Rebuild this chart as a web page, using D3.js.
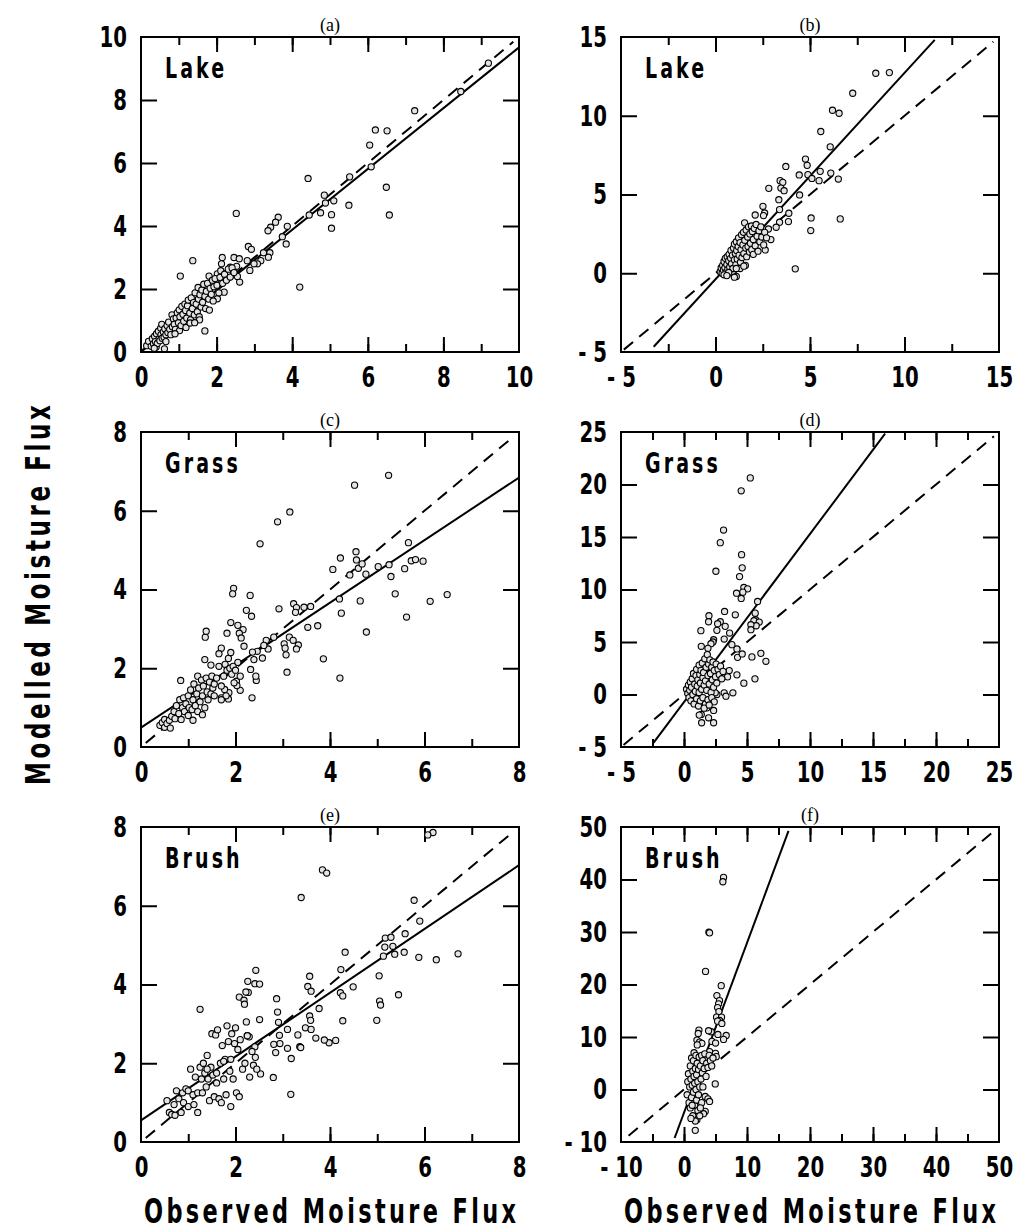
<!DOCTYPE html>
<html>
<head>
<meta charset="utf-8">
<script src="https://cdn.jsdelivr.net/npm/d3@7"></script>
<style>
  html, body { margin: 0; padding: 0; background: #fff; }
  svg { display: block; }
  .tick text { font-family: "Liberation Sans Narrow", "DejaVu Sans", sans-serif; font-weight: bold; font-size: 29px; fill: #000; }
  .tick line { stroke: #000; stroke-width: 2px; }
</style>
</head>
<body>
<div id="chart"></div>
<script>
// six panels: observed vs modelled moisture flux, three surfaces x two models
const panelLetters = ["(a)", "(b)", "(c)", "(d)", "(e)", "(f)"];
const surfaceNames = ["Lake", "Lake", "Grass", "Grass", "Brush", "Brush"];
const domains      = [[0, 10], [-5, 15], [0, 8], [-5, 25], [0, 8], [-10, 50]];
const majorSteps   = [2, 5, 2, 5, 2, 10];
const minorSteps   = [1, 2.5, 1, 2.5, 1, 5];
// regression fit: [slope, intercept], and x extent where it is drawn
const fitLines     = [[0.965, 0.02], [1.31, -0.38], [0.794, 0.49], [1.602, -0.73], [0.81, 0.55], [3.235, -4.42]];
const fitExtent    = [[0, 10], [-3.27, 11.6], [0, 8], [-2.41, 15.96], [0, 8], [-1.49, 16.59]];
const oneToOne     = [[0, 9.85], [-4.85, 14.7], [0.1, 7.9], [-4.8, 24.6], [0.1, 7.9], [-8.8, 49.6]];

const ptsA = [
  [9.19,9.17],[8.46,8.27],[7.24,7.66],[6.2,7.05],[6.51,7.02],[6.05,6.57],[6.09,5.88],[6.49,5.23],[6.57,4.35],
  [5.52,5.56],[5.5,4.66],[5.1,4.8],[4.85,4.98],[4.88,4.73],[4.75,4.42],[5.04,4.36],[5.04,3.93],[4.42,5.51],
  [4.45,4.35],[4.2,2.06],[3.87,3.99],[3.84,3.43],[3.74,3.66],[3.63,4.28],[3.56,4.12],[3.43,3.96],[3.36,3.85],
  [3.41,3.15],[3.37,3.01],[3.24,3.15],[3.17,2.9],[3.08,2.8],[2.84,3.35],[2.92,3.26],[2.81,2.9],[2.88,2.59],
  [2.99,2.8],[2.52,4.4],[2.46,3.0],[2.6,2.96],[2.53,2.72],[2.61,2.22],[2.55,2.4],[2.15,3.0],[2.13,2.8],
  [2.36,2.69],[2.29,2.53],[2.2,1.9],[2.02,2.48],[1.98,2.27],[1.37,2.9],[1.04,2.41],[1.8,2.41],[1.69,0.67],
  [2.02,1.69],[0.62,0.1],[0.4,0.16],
  [0.15,0.2],[0.2,0.34],[0.27,0.18],[0.3,0.42],[0.33,0.26],[0.36,0.5],[0.38,0.33],[0.41,0.58],[0.43,0.27],
  [0.46,0.66],[0.48,0.42],[0.5,0.36],[0.52,0.76],[0.53,0.55],[0.56,0.44],[0.55,0.88],[0.59,0.64],[0.61,0.47],
  [0.63,0.74],[0.66,0.55],[0.69,0.84],[0.71,0.62],[0.73,0.95],[0.76,0.72],[0.79,0.55],[0.82,1.18],[0.83,0.8],
  [0.86,1.05],[0.88,0.88],[0.91,0.72],[0.93,1.08],[0.96,1.25],[0.99,0.93],[1.02,0.68],[1.01,1.34],[1.03,1.12],
  [1.06,0.84],[1.08,1.45],[1.11,1.2],[1.13,0.98],[1.16,1.52],[1.18,1.32],[1.21,1.08],[1.19,0.78],[1.23,1.47],
  [1.25,1.65],[1.29,1.24],[1.31,1.02],[1.33,1.72],[1.36,1.38],[1.39,1.57],[1.41,1.18],[1.43,1.88],[1.46,1.52],
  [1.49,1.28],[1.51,2.05],[1.52,1.68],[1.54,1.12],[1.56,1.82],[1.59,1.43],[1.61,1.97],[1.63,1.58],[1.66,2.15],
  [1.69,1.77],[1.71,1.38],[1.73,1.93],[1.76,2.18],[1.79,1.68],[1.81,1.33],[1.83,2.02],[1.86,1.83],[1.89,2.28],
  [1.91,1.62],[1.93,2.07],[1.96,2.33],[2.01,2.12],[2.06,1.88],[2.09,2.37],[2.11,2.58],[2.16,2.18],[2.21,2.47],
  [2.26,2.28],[2.31,2.63],[2.36,2.38],[2.41,2.67],[2.46,2.52],[1.3,0.92],[1.55,1.02],[1.42,0.93],[0.9,0.58],
  [0.66,0.33],[0.35,0.12]
];
const ptsB = [
  [9.2,12.74],[8.48,12.7],[7.26,11.43],[6.19,10.35],[6.54,10.16],[5.57,9.0],[6.07,8.03],[4.76,7.25],[4.85,6.85],
  [4.89,6.26],[5.1,6.02],[5.54,6.47],[6.1,6.36],[5.48,5.88],[6.5,5.98],[4.43,6.24],[4.45,4.97],[3.72,6.78],
  [3.42,5.88],[3.56,5.77],[3.46,5.41],[3.63,5.24],[2.82,5.39],[3.35,4.67],[3.39,4.04],[3.88,3.81],[3.86,3.28],
  [3.39,3.24],[2.51,4.25],[2.6,3.83],[2.1,3.7],[2.54,3.66],[5.06,3.51],[5.04,2.71],[6.6,3.45],[4.22,0.28],
  [2.93,2.14],[3.21,2.92],[2.8,2.81],[2.63,1.48],[1.54,3.2],[0.96,-0.08],[1.1,-0.2],[1.0,-0.25],
  [0.25,0.1],[0.3,0.35],[0.35,0.0],[0.38,0.5],[0.42,0.2],[0.45,0.75],[0.5,0.35],[0.52,0.95],[0.55,0.05],
  [0.6,0.55],[0.62,1.05],[0.65,0.25],[0.7,0.8],[0.72,1.2],[0.75,0.4],[0.8,0.95],[0.82,1.45],[0.85,0.6],
  [0.9,1.15],[0.92,0.3],[0.95,1.6],[1.0,0.85],[1.0,1.85],[1.05,1.25],[1.08,0.55],[1.1,2.0],[1.12,1.45],
  [1.15,0.9],[1.2,1.7],[1.22,2.25],[1.25,1.15],[1.3,1.95],[1.32,0.7],[1.35,1.5],[1.38,2.45],[1.4,1.0],
  [1.45,1.8],[1.48,2.6],[1.5,1.25],[1.55,2.1],[1.58,0.5],[1.6,1.6],[1.62,2.75],[1.65,1.05],[1.7,2.3],
  [1.72,1.7],[1.75,2.95],[1.8,1.35],[1.82,2.5],[1.85,1.9],[1.9,3.0],[1.92,1.5],[1.95,2.65],[2.0,2.15],
  [2.0,1.2],[2.05,2.85],[2.1,1.75],[2.15,3.1],[2.2,2.35],[2.25,1.4],[2.3,2.7],[2.35,2.0],[2.4,2.95],
  [2.45,2.3],[2.55,1.8],[2.6,2.6],[2.7,2.25],[1.3,0.3],[1.5,0.45],[0.7,0.05],[1.1,0.3],[0.45,-0.1],[0.6,-0.15]
];
const ptsC = [
  [5.24,6.9],[4.52,6.65],[3.15,5.97],[2.89,5.72],[2.52,5.16],[5.66,5.19],[4.55,4.96],[4.22,4.8],[4.06,4.51],
  [4.56,4.75],[4.6,4.54],[4.68,4.65],[4.42,4.37],[4.76,4.39],[5.02,4.58],[5.25,4.63],[5.29,4.33],[5.58,4.53],
  [5.72,4.73],[5.81,4.76],[5.97,4.72],[5.38,3.89],[5.62,3.3],[6.12,3.7],[6.48,3.87],[4.2,3.76],[4.24,3.4],
  [4.64,3.71],[4.77,2.92],[4.21,1.75],[3.86,2.24],[3.23,3.64],[3.29,3.54],[3.27,3.42],[3.45,3.55],[3.59,3.57],
  [3.53,3.04],[3.74,3.08],[2.92,3.51],[3.14,2.79],[3.22,2.71],[3.33,2.59],[3.29,2.49],[3.03,2.62],[3.05,2.51],
  [3.07,2.34],[3.09,1.9],[2.81,2.79],[2.65,2.71],[2.69,2.49],[2.6,2.58],[2.57,2.26],[2.31,3.85],[2.23,3.47],
  [2.34,3.32],[1.96,4.03],[1.94,3.89],[1.9,3.16],[1.82,2.89],[2.05,3.09],[2.16,2.98],[2.08,2.89],[2.12,2.77],
  [2.18,2.56],[1.36,2.79],[1.38,2.94],[1.35,2.22],[1.48,2.08],[1.7,2.51],[1.65,2.37],[0.84,1.69],[2.35,1.25],
  [2.44,1.69],[2.43,1.8],[2.39,2.22],[2.46,2.43],[2.32,1.97],[2.36,2.41],[2.02,1.67],[2.1,1.44],[2.03,1.56],
  [1.97,1.63],[1.86,1.38],[1.7,1.25],[1.85,1.22],[1.77,1.46],
  [0.4,0.55],[0.45,0.62],[0.5,0.7],[0.5,0.5],[0.55,0.6],[0.6,0.68],[0.62,0.48],[0.65,0.78],[0.7,0.9],
  [0.72,0.72],[0.75,1.05],[0.8,0.85],[0.82,1.2],[0.85,0.7],[0.88,1.0],[0.9,1.25],[0.92,0.9],[0.95,1.1],
  [1.0,0.8],[1.0,1.3],[1.02,1.0],[1.05,1.45],[1.08,0.95],[1.1,1.2],[1.1,0.68],[1.12,1.6],[1.15,1.05],
  [1.18,1.35],[1.2,1.8],[1.2,0.9],[1.22,1.5],[1.25,1.15],[1.28,1.7],[1.3,0.82],[1.3,1.3],[1.32,1.55],
  [1.35,1.0],[1.38,1.75],[1.4,1.4],[1.42,1.2],[1.45,1.65],[1.48,1.35],[1.5,1.8],[1.52,1.5],[1.55,1.6],
  [1.6,1.75],[1.65,2.05],[1.7,1.55],[1.75,1.8],[1.78,2.1],[1.8,1.3],[1.82,1.95],[1.85,2.25],[1.88,2.0],
  [1.9,2.4],[1.92,1.85],[1.95,2.05],[2.0,1.95],[2.05,2.15],[2.1,1.8],[1.7,1.2],[1.55,1.3]
];
const ptsD = [
  [5.26,20.63],[4.54,19.4],[3.14,15.66],[2.88,14.46],[4.57,13.32],[4.62,12.06],[4.41,11.23],[2.53,11.74],
  [4.75,10.19],[5.05,10.06],[4.67,9.75],[4.17,9.65],[4.54,9.15],[5.84,8.86],[5.65,7.75],[5.68,7.12],[5.55,7.03],
  [5.97,6.9],[5.73,6.55],[5.31,6.65],[5.31,6.17],[3.22,7.91],[4.07,7.59],[1.98,7.5],[1.95,6.93],[2.88,6.93],
  [2.67,6.74],[3.27,6.49],[2.61,6.11],[1.34,6.08],[3.62,5.85],[2.35,5.22],[3.19,5.28],[2.3,5.0],[2.14,4.84],
  [1.37,4.59],[3.8,4.75],[1.9,4.4],[4.2,4.34],[4.25,3.54],[4.62,3.86],[6.1,3.92],[5.39,3.58],[6.5,3.16],
  [4.2,1.87],[5.63,1.49],[4.75,1.08],[3.88,0.16],[3.19,0.16],[3.33,-0.16],[3.59,2.28],[3.46,1.68],
  [1.37,-1.9],[1.21,-1.96],[1.4,-2.69],[2.35,-2.69],[1.95,-2.22],[2.35,-1.52],[1.82,-1.27],[2.61,0.0],[2.48,0.16],
  [0.2,0.5],[0.3,0.1],[0.35,0.9],[0.4,-0.3],[0.45,0.4],[0.5,1.2],[0.55,-0.6],[0.6,0.7],[0.65,1.5],[0.7,0.0],
  [0.75,2.0],[0.8,-0.9],[0.85,1.0],[0.9,0.3],[0.95,1.8],[1.0,-0.4],[1.0,2.4],[1.05,0.8],[1.1,1.4],[1.15,-1.1],
  [1.2,2.8],[1.2,0.2],[1.25,1.9],[1.3,-0.6],[1.3,1.1],[1.35,2.3],[1.4,0.5],[1.45,3.0],[1.5,1.6],[1.5,-0.3],
  [1.55,2.1],[1.6,0.9],[1.65,3.4],[1.7,1.3],[1.7,-0.9],[1.75,2.6],[1.8,0.4],[1.85,3.8],[1.9,1.8],[1.9,-0.5],
  [1.95,2.9],[2.0,1.0],[2.05,3.3],[2.1,2.0],[2.15,0.2],[2.2,2.6],[2.25,1.4],[2.3,3.1],[2.35,0.7],[2.4,2.3],
  [2.5,1.7],[2.55,2.9],[2.6,1.1],[2.7,2.4],[2.8,1.9],[2.9,2.7],[3.0,1.5],[3.1,2.2],[2.2,-0.3],[2.4,-0.7],
  [1.6,-1.3],[2.0,-1.0]
];
const ptsE = [
  [6.18,7.86],[6.07,7.8],[3.84,6.91],[3.93,6.83],[3.39,6.21],[5.78,6.14],[5.9,5.61],[5.59,5.29],[5.17,5.18],
  [5.29,5.2],[5.16,4.95],[5.33,4.97],[5.37,4.77],[5.57,4.82],[5.13,4.72],[5.88,4.69],[6.25,4.63],[6.71,4.78],
  [5.04,4.22],[5.45,3.74],[5.05,3.58],[5.07,3.48],[4.99,3.09],[4.32,4.82],[4.23,4.38],[4.49,3.94],[4.22,3.79],
  [4.27,3.71],[4.27,3.08],[4.12,2.58],[3.98,2.52],[3.88,2.59],[3.57,4.21],[3.53,3.95],[3.6,3.83],[3.77,3.39],
  [3.57,3.2],[3.59,3.09],[3.48,2.9],[3.6,2.86],[3.7,2.64],[3.32,2.72],[3.36,2.42],[3.38,2.4],[3.18,2.12],
  [3.17,1.21],[3.1,2.38],[3.1,2.86],[2.87,3.64],[2.89,3.3],[2.91,3.04],[2.93,2.71],[2.94,2.5],[2.81,2.48],
  [2.85,2.27],[2.8,1.64],[2.43,4.36],[2.26,4.08],[2.41,4.02],[2.51,4.01],[2.27,3.8],[2.22,3.81],[2.08,3.68],
  [2.18,3.6],[2.19,3.5],[2.51,3.11],[2.23,3.05],[2.25,2.7],[2.29,2.67],[2.41,2.42],[2.53,1.73],[1.25,3.37],
  [0.55,1.05],[0.6,0.75],[0.65,0.7],[0.7,0.95],[0.72,0.68],[0.75,1.3],[0.8,1.1],[0.85,0.75],[0.88,1.25],
  [0.9,1.0],[0.95,1.35],[1.0,0.9],[1.0,1.3],[1.05,1.85],[1.1,1.2],[1.12,0.95],[1.15,1.65],[1.2,1.25],
  [1.2,0.75],[1.25,1.9],[1.28,1.6],[1.3,1.25],[1.32,2.0],[1.35,1.75],[1.38,1.4],[1.4,2.2],[1.42,1.6],
  [1.45,1.05],[1.48,1.9],[1.5,2.75],[1.52,1.7],[1.55,1.15],[1.58,2.72],[1.6,1.5],[1.62,2.85],[1.65,1.1],
  [1.68,2.0],[1.7,1.0],[1.72,2.45],[1.75,1.6],[1.78,2.1],[1.8,1.2],[1.82,2.95],[1.85,2.55],[1.88,1.8],
  [1.9,2.1],[1.9,0.9],[1.92,2.75],[1.95,1.6],[1.98,2.5],[2.0,2.9],[2.02,1.25],[2.05,2.35],[2.08,1.15],
  [2.1,2.6],[2.15,1.85],[2.2,2.0],[2.25,2.7],[2.3,1.65],[2.35,2.3],[2.38,1.95],[2.42,2.15],[2.45,1.85],
  [1.4,1.85],[1.6,1.75],[1.75,2.05]
];
const ptsF = [
  [6.28,40.4],[6.17,39.57],[3.95,29.96],[4.06,29.84],[3.42,22.5],[5.91,19.78],[5.22,17.89],[5.64,16.94],
  [5.49,16.31],[5.33,15.61],[5.54,14.85],[5.17,13.78],[5.96,13.78],[5.64,13.15],[5.33,13.02],[6.01,12.58],
  [6.7,10.3],[6.28,9.54],[5.38,10.49],[4.32,11.0],[3.9,11.19],[4.43,9.16],[5.01,8.85],[2.37,11.31],[2.26,10.68],
  [2.05,9.42],[2.47,9.04],[2.84,8.79],[4.06,7.21],[5.0,6.89],[5.12,6.26],[4.96,1.07],[3.37,-1.33],[3.8,-1.77],
  [4.06,-2.28],[3.37,-4.17],[3.1,-4.61],[2.32,-4.93],[1.79,-7.78],[2.05,-5.75],
  [0.5,-1],[0.6,1.5],[0.7,3],[0.8,-2.5],[0.9,0.5],[1.0,4.5],[1.0,-3.5],[1.1,2],[1.2,6],[1.2,-1.5],[1.3,0.8],
  [1.4,3.5],[1.4,-5],[1.5,5.5],[1.5,-0.5],[1.6,2.5],[1.6,7],[1.7,-3],[1.7,1.2],[1.8,4],[1.8,-6],[1.9,6.5],
  [1.9,0],[2.0,2.8],[2.0,-2],[2.1,5],[2.1,8.5],[2.2,-4],[2.2,1.5],[2.3,3.8],[2.3,-1],[2.4,6.2],[2.5,0.5],
  [2.5,-5],[2.6,4.5],[2.7,2],[2.8,6.5],[2.8,-2.5],[2.9,3.2],[3.0,5.5],[3.0,0.5],[3.2,4],[3.3,6.8],[3.5,2.5],
  [3.6,5],[3.8,4.2],[4.0,6.5],[4.2,5.5],[4.4,4.5],[4.6,6],[1.3,-3],[1.1,-5.5],[2.6,-3.5]
];
const allPoints = [ptsA, ptsB, ptsC, ptsD, ptsE, ptsF];

const xTitle = "Observed Moisture Flux";
const yTitle = "Modelled Moisture Flux";

const width = 1016, height = 1232;
const panelW = 378, panelH = 315;
const colX = [141, 621];
const rowY = [37, 432, 827];
const boldFont = '"Liberation Sans Narrow", "DejaVu Sans", sans-serif';
const squeeze = 0.68;   // horizontal squeeze to get the narrow bold look

const svg = d3.select("#chart").append("svg")
  .attr("width", width).attr("height", height)
  .attr("viewBox", [0, 0, width, height]);

const fmt = d => d < 0 ? "- " + (-d) : String(d);

panelLetters.forEach((letter, i) => {
  const col = i % 2, row = Math.floor(i / 2);
  const g = svg.append("g").attr("transform", `translate(${colX[col]},${rowY[row]})`);
  const dom = domains[i];

  const x = d3.scaleLinear().domain(dom).range([0, panelW]);
  const y = d3.scaleLinear().domain(dom).range([panelH, 0]);

  const major = d3.range(dom[0], dom[1] + 1e-9, majorSteps[i]);
  const minor = d3.range(dom[0], dom[1] + 1e-9, minorSteps[i]);
  const inner = v => v > dom[0] + 1e-9 && v < dom[1] - 1e-9;

  const styleAxis = sel => { sel.select(".domain").remove(); sel.attr("font-family", null).attr("font-size", null); };

  // inward ticks on all sides
  g.append("g").attr("transform", `translate(0,${panelH})`)
    .call(d3.axisBottom(x).tickValues(minor.filter(inner)).tickSize(-8).tickFormat(""))
    .call(styleAxis);
  const xa = g.append("g").attr("transform", `translate(0,${panelH})`)
    .call(d3.axisBottom(x).tickValues(major).tickSize(-15).tickPadding(14).tickFormat(fmt))
    .call(styleAxis);
  xa.selectAll(".tick line").filter(d => !inner(d)).remove();
  xa.selectAll(".tick text").attr("transform", `scale(${squeeze},1)`);

  g.append("g")
    .call(d3.axisTop(x).tickValues(minor.filter(inner)).tickSize(-8).tickFormat(""))
    .call(styleAxis);
  g.append("g")
    .call(d3.axisTop(x).tickValues(major.filter(inner)).tickSize(-15).tickFormat(""))
    .call(styleAxis);

  const ya = g.append("g")
    .call(d3.axisLeft(y).tickValues(major).tickSize(-16).tickPadding(14).tickFormat(fmt))
    .call(styleAxis);
  ya.selectAll(".tick line").filter(d => !inner(d)).remove();
  ya.selectAll(".tick text")
    .attr("x", -14 / squeeze)
    .attr("transform", `scale(${squeeze},1)`);

  g.append("g").attr("transform", `translate(${panelW},0)`)
    .call(d3.axisRight(y).tickValues(major.filter(inner)).tickSize(-16).tickFormat(""))
    .call(styleAxis);

  g.selectAll(".tick text").attr("fill", "#000");

  // 1:1 line
  const o = oneToOne[i];
  g.append("line")
    .attr("x1", x(o[0])).attr("y1", y(o[0]))
    .attr("x2", x(o[1])).attr("y2", y(o[1]))
    .attr("stroke", "#000").attr("stroke-width", 2)
    .attr("stroke-dasharray", "12,8");

  // regression line
  const [m, b] = fitLines[i];
  const [fx0, fx1] = fitExtent[i];
  g.append("line")
    .attr("x1", x(fx0)).attr("y1", y(m * fx0 + b))
    .attr("x2", x(fx1)).attr("y2", y(m * fx1 + b))
    .attr("stroke", "#000").attr("stroke-width", 2);

  // points
  g.selectAll("circle.pt")
    .data(allPoints[i])
    .join("circle")
    .attr("class", "pt")
    .attr("cx", d => x(d[0]))
    .attr("cy", d => y(d[1]))
    .attr("r", 3.1)
    .attr("fill", "#e4e4e4")
    .attr("stroke", "#000")
    .attr("stroke-width", 1.1);

  // frame
  g.append("rect")
    .attr("width", panelW).attr("height", panelH)
    .attr("fill", "none").attr("stroke", "#000").attr("stroke-width", 2);

  // surface name
  g.append("text")
    .attr("transform", `translate(24,41) scale(${squeeze},1)`)
    .attr("font-family", boldFont).attr("font-weight", "bold")
    .attr("font-size", 28).attr("letter-spacing", 4.5)
    .text(surfaceNames[i]);

  // panel letter
  g.append("text")
    .attr("x", panelW / 2).attr("y", -6)
    .attr("text-anchor", "middle")
    .attr("font-family", '"Liberation Serif", "DejaVu Serif", serif')
    .attr("font-size", 18)
    .text(letter);
});

// axis titles
colX.forEach(cx => {
  svg.append("text")
    .attr("transform", `translate(${cx + panelW / 2},1223) scale(${squeeze},1)`)
    .attr("text-anchor", "middle")
    .attr("font-family", boldFont).attr("font-weight", "bold")
    .attr("font-size", 33)
    .attr("textLength", 372 / squeeze).attr("lengthAdjust", "spacing")
    .text(xTitle);
});

svg.append("text")
  .attr("transform", `translate(50,595) rotate(-90) scale(${squeeze},1)`)
  .attr("text-anchor", "middle")
  .attr("font-family", boldFont).attr("font-weight", "bold")
  .attr("font-size", 34)
  .attr("textLength", 380 / squeeze).attr("lengthAdjust", "spacing")
  .text(yTitle);
</script>
</body>
</html>
